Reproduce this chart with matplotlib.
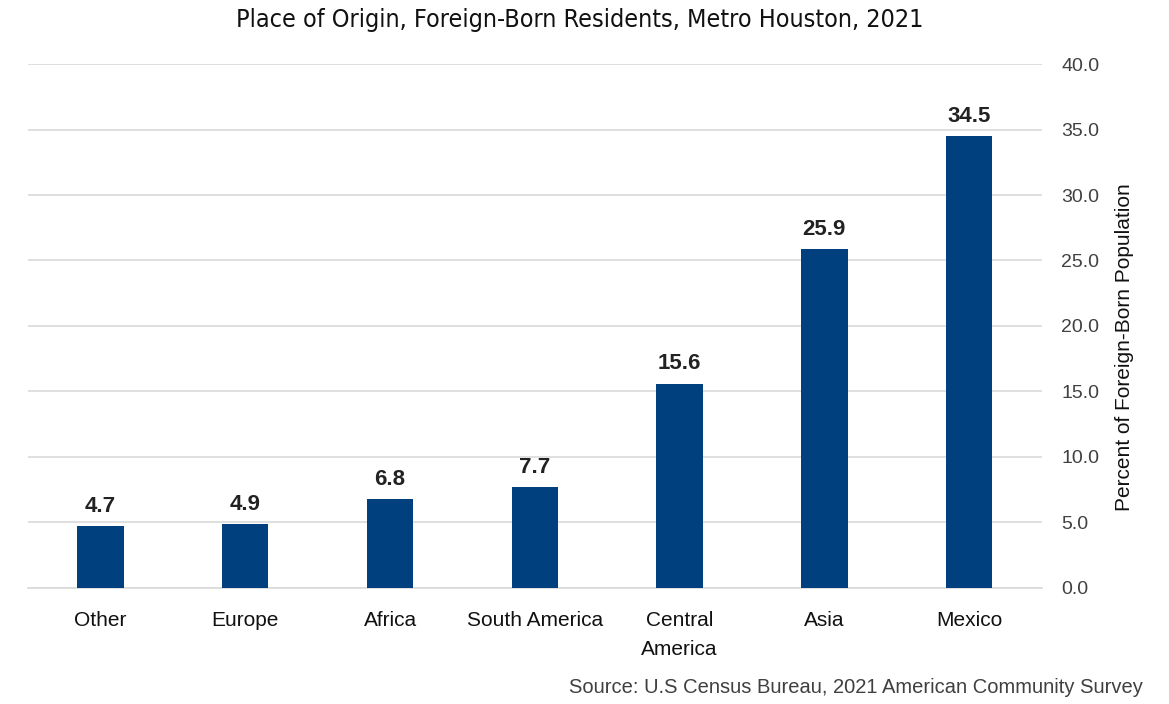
import matplotlib.pyplot as plt

# data (order, left-to-right in the reference is reversed)
regions = ["Mexico", "Asia", "Central\nAmerica", "South America", "Africa", "Europe", "Other"]
pct = [34.5, 25.9, 15.6, 7.7, 6.8, 4.9, 4.7]
yticks = [0, 5, 10, 15, 20, 25, 30, 35, 40]

bar_color = "#00407F"
grid_color = "#D9D9D9"

plt.rcParams["font.family"] = ["Liberation Sans", "DejaVu Sans"]

fig = plt.figure(figsize=(11.69, 7.04), dpi=100)
ax = fig.add_axes([0.024, 0.165, 0.867, 0.744])

x = list(range(len(regions)))
bars = ax.bar(x, pct, width=0.32, color=bar_color, zorder=3)

for xi, v in zip(x, pct):
    ax.text(xi, v + 0.7, f"{v:.1f}", ha="center", va="bottom",
            fontsize=16, fontweight="bold", color="#222222")

ax.set_xlim(-0.5, len(regions) - 0.5)
ax.invert_xaxis()
ax.set_ylim(0, 40)
ax.set_yticks(yticks)
ax.set_yticklabels([f"{t:.1f}" for t in yticks], fontsize=14, color="#404040")
ax.yaxis.tick_right()
ax.tick_params(axis="y", length=0, pad=14)
ax.grid(axis="y", color=grid_color, linewidth=1.2, zorder=0)

ax.set_xticks(x)
ax.set_xticklabels(regions, fontsize=15, color="#111111", linespacing=1.65)
ax.tick_params(axis="x", length=0, pad=17)

for s in ["top", "left", "right"]:
    ax.spines[s].set_visible(False)
ax.spines["bottom"].set_color(grid_color)
ax.spines["bottom"].set_linewidth(1.2)

fig.text(0.962, 0.507, "Percent of Foreign-Born Population", rotation=90,
         ha="center", va="center", fontsize=15, color="#111111")

fig.text(0.496, 0.971, "Place of Origin, Foreign-Born Residents, Metro Houston, 2021",
         ha="center", va="center", fontsize=18, color="#111111",
         family=["DejaVu Sans"], fontstretch="condensed")

fig.text(0.978, 0.023, "Source: U.S Census Bureau, 2021 American Community Survey",
         ha="right", va="center", fontsize=14.5, color="#404040")

fig.savefig("out.png", dpi=100)
